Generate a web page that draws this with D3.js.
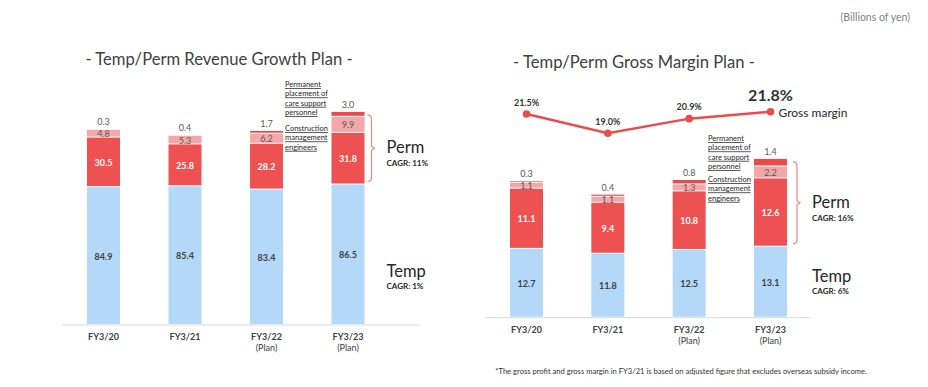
<!DOCTYPE html>
<html>
<head>
<meta charset="utf-8">
<script src="https://cdn.jsdelivr.net/npm/d3@7"></script>
<style>
  body { margin: 0; background: #fff; }
  svg { font-family: Lato, "Open Sans", sans-serif; }
</style>
</head>
<body>
<div id="viz"></div>
<script>
// categories
const years = ["FY3/20", "FY3/21", "FY3/22", "FY3/23"];
const planFlags = [false, false, true, true];

// revenue (billions of yen)
const revTemp = [84.9, 85.4, 83.4, 86.5];
const revPerm = [30.5, 25.8, 28.2, 31.8];
const revConstruction = [4.8, 5.3, 6.2, 9.9];
const revCare = [0.3, 0.4, 1.7, 3.0];

// gross margin (billions of yen)
const gmTemp = [12.7, 11.8, 12.5, 13.1];
const gmPerm = [11.1, 9.4, 10.8, 12.6];
const gmConstruction = [1.1, 1.1, 1.3, 2.2];
const gmCare = [0.3, 0.4, 0.8, 1.4];

// gross margin ratio (%)
const gmRatio = [21.5, 19.0, 20.9, 21.8];

const cagrLeft = {perm: "CAGR: 11%", temp: "CAGR: 1%"};
const cagrRight = {perm: "CAGR: 16%", temp: "CAGR: 6%"};

const colors = {
    temp: "#b4d9f8",
    perm: "#ee5151",
    construction: "#f4a7a8",
    care: "#e94a4a"
};

const svg = d3.select("#viz")
    .append("svg")
        .attr("width", 928)
        .attr("height", 387);

// header note
svg.append("text")
    .attr("x", 910).attr("y", 21)
    .attr("text-anchor", "end")
    .attr("font-size", 10.5)
    .attr("fill", "#7f7f7f")
    .text("(Billions of yen)");

svg.append("text")
    .attr("x", 681).attr("y", 374)
    .attr("text-anchor", "middle")
    .attr("font-size", 7.6)
    .attr("fill", "#333")
    .text("*The gross profit and gross margin in FY3/21 is based on adjusted figure that excludes overseas subsidy income.");

function stacked(opts) {
    const g = svg.append("g");
    const barW = 33;

    const x = d3.scalePoint()
        .domain(years)
        .range(opts.xRange);

    const y = d3.scaleLinear()
        .domain(opts.yDomain)
        .range(opts.yRange);

    g.append("text")
        .attr("x", opts.titleX).attr("y", opts.titleY)
        .attr("text-anchor", "middle")
        .attr("font-size", 16.6)
        .attr("fill", "#404040")
        .text(opts.title);

    // baseline
    g.append("line")
        .attr("x1", opts.axisX[0]).attr("x2", opts.axisX[1])
        .attr("y1", y(0)).attr("y2", y(0))
        .attr("stroke", "#d9d9d9")
        .attr("stroke-width", 1);

    const keys = ["temp", "perm", "construction", "care"];
    const rows = years.map(function(yr, i) {
        return {
            year: yr,
            temp: opts.temp[i],
            perm: opts.perm[i],
            construction: opts.construction[i],
            care: opts.care[i]
        };
    });
    const series = d3.stack().keys(keys)(rows);

    series.forEach(function(s) {
        const key = s.key;
        g.selectAll(null)
            .data(s)
            .enter()
            .append("rect")
                .attr("x", function(d) { return x(d.data.year) - barW / 2; })
                .attr("width", barW)
                .attr("y", function(d) { return y(d[1]); })
                .attr("height", function(d) { return Math.max(0, y(d[0]) - y(d[1]) - 1); })
                .attr("fill", colors[key]);

        if (key === "care") {
            g.selectAll(null)
                .data(s)
                .enter()
                .append("text")
                    .attr("x", function(d) { return x(d.data.year); })
                    .attr("y", function(d) { return y(d[1]) - 4; })
                    .attr("text-anchor", "middle")
                    .attr("font-size", 9)
                    .attr("fill", "#595959")
                    .text(function(d) { return d.data.care.toFixed(1); });
        } else {
            g.selectAll(null)
                .data(s)
                .enter()
                .append("text")
                    .attr("x", function(d) { return x(d.data.year); })
                    .attr("y", function(d) { return (y(d[0]) + y(d[1])) / 2 + 3.5; })
                    .attr("text-anchor", "middle")
                    .attr("font-size", 9)
                    .attr("font-weight", key === "construction" ? "normal" : "bold")
                    .attr("fill", key === "perm" ? "#fff" : (key === "temp" ? "#404040" : "#595959"))
                    .text(function(d) { return d.data[key].toFixed(1); });
        }
    });

    // category labels
    const cat = g.selectAll(null)
        .data(years)
        .enter()
        .append("text")
            .attr("x", function(d) { return x(d); })
            .attr("y", y(0) + opts.catDy)
            .attr("text-anchor", "middle")
            .attr("font-size", 9)
            .attr("font-weight", "bold")
            .attr("fill", "#404040");
    cat.append("tspan").text(function(d) { return d; });
    cat.filter(function(d, i) { return planFlags[i]; })
        .append("tspan")
            .attr("x", function(d) { return x(d); })
            .attr("dy", 11)
            .attr("font-weight", "normal")
            .text("(Plan)");

    // annotation for the perm breakdown
    const note = g.append("text")
        .attr("font-size", 7.5)
        .attr("fill", "#262626")
        .attr("text-decoration", "underline");
    const noteLines = ["Permanent", "placement of", "care support", "personnel"];
    noteLines.forEach(function(t, i) {
        note.append("tspan")
            .attr("x", opts.noteX)
            .attr("y", opts.noteY + i * 9.4)
            .text(t);
    });
    ["Construction", "management", "engineers"].forEach(function(t, i) {
        note.append("tspan")
            .attr("x", opts.noteX)
            .attr("y", opts.noteY + opts.noteGap + i * 9.4)
            .text(t);
    });

    // bracket around the last perm stack
    const last = rows[rows.length - 1];
    const bx = x(years[years.length - 1]) + barW / 2 + opts.bracketDx;
    const top = y(last.temp + last.perm + last.construction + last.care) + 3;
    const bottom = y(last.temp) - 3;
    const mid = (top + bottom) / 2;
    const p = d3.path();
    p.moveTo(bx - 4, top);
    p.quadraticCurveTo(bx, top, bx, top + 4);
    p.lineTo(bx, mid - 2);
    p.lineTo(bx + 3, mid);
    p.lineTo(bx, mid + 2);
    p.lineTo(bx, bottom - 4);
    p.quadraticCurveTo(bx, bottom, bx - 4, bottom);
    g.append("path")
        .attr("d", p.toString())
        .attr("fill", "none")
        .attr("stroke", "#f08585")
        .attr("stroke-width", 1.2);

    const lx = bx + 15;
    g.append("text")
        .attr("x", lx).attr("y", mid + 5)
        .attr("font-size", 16.5)
        .attr("fill", "#262626")
        .text("Perm");
    g.append("text")
        .attr("x", lx).attr("y", mid + 18)
        .attr("font-size", 8)
        .attr("font-weight", "bold")
        .attr("fill", "#262626")
        .text(opts.cagr.perm);

    g.append("text")
        .attr("x", lx).attr("y", opts.tempY)
        .attr("font-size", 16.5)
        .attr("fill", "#262626")
        .text("Temp");
    g.append("text")
        .attr("x", lx).attr("y", opts.tempY + 12)
        .attr("font-size", 8)
        .attr("font-weight", "bold")
        .attr("fill", "#262626")
        .text(opts.cagr.temp);

    return {x: x, y: y, g: g};
}

stacked({
    title: "- Temp/Perm Revenue Growth Plan -",
    titleX: 219, titleY: 65,
    xRange: [103.5, 348],
    yDomain: [0, 130],
    yRange: [325, 325 - 130 * 1.624],
    axisX: [62, 420],
    catDy: 15,
    temp: revTemp, perm: revPerm, construction: revConstruction, care: revCare,
    noteX: 285, noteY: 87, noteGap: 44,
    bracketDx: 7,
    tempY: 277,
    cagr: cagrLeft
});

const right = stacked({
    title: "- Temp/Perm Gross Margin Plan -",
    titleX: 634, titleY: 68,
    xRange: [526.5, 770.5],
    yDomain: [0, 25],
    yRange: [317.7, 317.7 - 25 * 5.42],
    axisX: [485, 810],
    catDy: 15,
    temp: gmTemp, perm: gmPerm, construction: gmConstruction, care: gmCare,
    noteX: 708, noteY: 141, noteGap: 41,
    bracketDx: 10,
    tempY: 282,
    cagr: cagrRight
});

// gross margin ratio line
const yr = d3.scaleLinear()
    .domain([19, 21.5])
    .range([133.3, 114]);

const line = d3.line()
    .x(function(d, i) { return right.x(years[i]); })
    .y(function(d) { return yr(d); });

right.g.append("path")
    .datum(gmRatio)
    .attr("d", line)
    .attr("fill", "none")
    .attr("stroke", "#e84c4c")
    .attr("stroke-width", 2.5);

right.g.selectAll(null)
    .data(gmRatio)
    .enter()
    .append("circle")
        .attr("cx", function(d, i) { return right.x(years[i]); })
        .attr("cy", function(d) { return yr(d); })
        .attr("r", 3.8)
        .attr("fill", "#e84c4c");

right.g.selectAll(null)
    .data(gmRatio)
    .enter()
    .append("text")
        .attr("x", function(d, i) { return right.x(years[i]); })
        .attr("y", function(d, i) { return yr(d) - (i === gmRatio.length - 1 ? 11 : 8.5); })
        .attr("text-anchor", "middle")
        .attr("font-size", function(d, i) { return i === gmRatio.length - 1 ? 16 : 9; })
        .attr("font-weight", "bold")
        .attr("fill", "#333")
        .text(function(d) { return d.toFixed(1) + "%"; });

right.g.append("text")
    .attr("x", right.x(years[3]) + 8)
    .attr("y", yr(gmRatio[3]) + 5)
    .attr("font-size", 12)
    .attr("fill", "#262626")
    .text("Gross margin");
</script>
</body>
</html>
